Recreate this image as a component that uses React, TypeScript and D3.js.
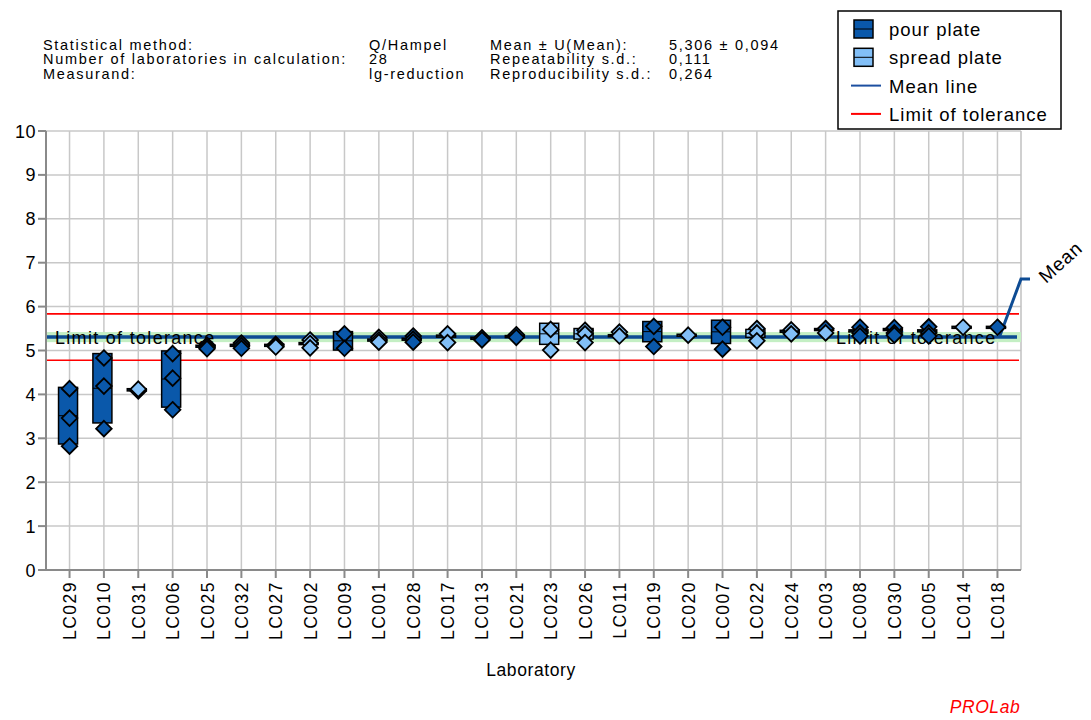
import React from 'react';
import * as d3 from 'd3';

// laboratories in chart order
const labs = [
  'LC029', 'LC010', 'LC031', 'LC006', 'LC025', 'LC032', 'LC027', 'LC002', 'LC009', 'LC001',
  'LC028', 'LC017', 'LC013', 'LC021', 'LC023', 'LC026', 'LC011', 'LC019', 'LC020', 'LC007',
  'LC022', 'LC024', 'LC003', 'LC008', 'LC030', 'LC005', 'LC014', 'LC018',
];
// method of each lab's box: p = pour plate, s = spread plate
const boxMethod = [
  'p', 'p', 'p', 'p', 'p', 'p', 'p', 'p', 'p', 'p',
  'p', 'p', 'p', 'p', 's', 's', 'p', 'p', 's', 'p',
  's', 'p', 'p', 'p', 'p', 'p', 's', 'p',
];
const boxLow = [
  2.87, 3.35, 4.08, 3.71, 5.08, 5.1, 5.1, 5.14, 5.01, 5.22,
  5.24, 5.31, 5.26, 5.3, 5.14, 5.26, 5.32, 5.2, 5.33, 5.16,
  5.3, 5.42, 5.46, 5.43, 5.46, 5.43, 5.51, 5.51,
];
const boxHigh = [
  4.16, 4.93, 4.13, 4.99, 5.12, 5.14, 5.14, 5.18, 5.43, 5.26,
  5.28, 5.35, 5.3, 5.34, 5.62, 5.5, 5.36, 5.66, 5.37, 5.69,
  5.48, 5.46, 5.5, 5.47, 5.5, 5.47, 5.55, 5.55,
];
// single results per laboratory
const results = [
  [4.13, 3.46, 2.82], [4.83, 4.19, 3.22], [4.1, 4.08, 4.12], [4.93, 4.37, 3.65],
  [5.12, 5.08, 5.04], [5.17, 5.11, 5.05], [5.14, 5.1, 5.08], [5.24, 5.16, 5.06],
  [5.38, 5.05], [5.3, 5.24, 5.19], [5.33, 5.26, 5.19], [5.38, 5.18],
  [5.29, 5.24], [5.36, 5.3], [5.48, 5.01], [5.46, 5.38, 5.18],
  [5.42, 5.33], [5.55, 5.09], [5.35], [5.53, 5.03],
  [5.5, 5.4, 5.22], [5.47, 5.38], [5.5, 5.4], [5.53, 5.4, 5.33],
  [5.52, 5.4, 5.35], [5.54, 5.4, 5.33], [5.53], [5.53],
];
const resultMethod = [
  ['p', 'p', 'p'], ['p', 'p', 'p'], ['p', 'p', 's'], ['p', 'p', 'p'],
  ['p', 'p', 'p'], ['p', 'p', 'p'], ['s', 's', 's'], ['s', 's', 's'],
  ['p', 'p'], ['s', 's', 's'], ['p', 'p', 'p'], ['s', 's'],
  ['p', 'p'], ['p', 'p'], ['s', 's'], ['s', 's', 's'],
  ['s', 's'], ['p', 'p'], ['s'], ['p', 'p'],
  ['s', 's', 's'], ['s', 's'], ['p', 's'], ['p', 'p', 'p'],
  ['p', 'p', 'p'], ['p', 'p', 'p'], ['s'], ['p'],
];

const meanValue = 5.306;
const bandLow = 5.19;
const bandHigh = 5.42;
const tolLow = 4.778;
const tolHigh = 5.834;
const meanLabelLevel = 6.63;

const headerLabels = ['Statistical method:', 'Number of laboratories in calculation:', 'Measurand:'];
const headerValues = ['Q/Hampel', '28', 'lg-reduction'];
const statLabels = ['Mean ± U(Mean):', 'Repeatability s.d.:', 'Reproducibility s.d.:'];
const statValues = ['5,306 ± 0,094', '0,111', '0,264'];
const legendItems = ['pour plate', 'spread plate', 'Mean line', 'Limit of tolerance'];

const DARK = '#0a58aa';
const LIGHT = '#82bff7';
const MEAN = '#0d4b93';
const FONT = '"Liberation Sans", Arial, sans-serif';
const fill = (m: string) => (m === 'p' ? DARK : LIGHT);

export default function App() {
  const width = 1091;
  const height = 720;
  const left = 46;
  const right = 1021;
  const top = 131;
  const bottom = 570;

  const x = d3.scalePoint<string>().domain(labs).range([left, right]).padding(0.685);
  const y = d3.scaleLinear().domain([0, 10]).range([bottom, top]);
  const yTicks = y.ticks(10);
  const lastX = x(labs[labs.length - 1]) as number;

  const connector = d3.line()([
    [lastX + 2, y(meanValue)],
    [right, y(meanLabelLevel)],
    [right + 9, y(meanLabelLevel)],
  ]);
  const diamond = d3.symbol().type(d3.symbolDiamond2).size(155)();

  const t = (size: number, ls: number) => ({ fontFamily: FONT, fontSize: size, letterSpacing: ls });
  const headerCols: [string[], number][] = [
    [headerLabels, 43],
    [headerValues, 369],
    [statLabels, 490],
    [statValues, 669],
  ];

  return (
    <svg width={width} height={height} style={{ position: 'absolute', left: 0, top: 0, background: '#fff' }}>
      {/* header */}
      {headerCols.map(([rows, hx]) =>
        rows.map((s, i) => (
          <text key={s} x={hx} y={49.5 + i * 14.6} style={t(14.5, 1.7)}>{s}</text>
        )),
      )}

      {/* grid */}
      {yTicks.map((v) => (
        <line key={'h' + v} x1={left} x2={right} y1={y(v)} y2={y(v)} stroke="#c8c8c8" strokeWidth={1.5} />
      ))}
      {labs.map((l) => (
        <line key={'v' + l} x1={x(l)} x2={x(l)} y1={top} y2={bottom} stroke="#c8c8c8" strokeWidth={1.5} />
      ))}
      <line x1={right} x2={right} y1={top} y2={bottom} stroke="#c0c0c0" strokeWidth={1.5} />

      {/* mean band, tolerance and mean line */}
      <rect x={left} width={right - left} y={y(bandHigh)} height={y(bandLow) - y(bandHigh)} fill="#c4efc4" />
      <line x1={left} x2={right - 2} y1={y(tolHigh)} y2={y(tolHigh)} stroke="#ff0000" strokeWidth={1.6} />
      <line x1={left} x2={right - 2} y1={y(tolLow)} y2={y(tolLow)} stroke="#ff0000" strokeWidth={1.6} />
      <line x1={left} x2={right - 4} y1={y(meanValue)} y2={y(meanValue)} stroke={MEAN} strokeWidth={3.5} />
      <path d={connector || ''} fill="none" stroke={MEAN} strokeWidth={3} />
      <text transform={`translate(1046,${y(meanLabelLevel) + 5}) rotate(-42)`} style={t(19, 0.8)}>Mean</text>
      <text x={55} y={y(meanValue) + 7} style={t(18, 1.3)}>Limit of tolerance</text>
      <text x={836} y={y(meanValue) + 7} style={t(18, 1.3)}>Limit of tolerance</text>

      {/* axes */}
      <line x1={left} x2={left} y1={top} y2={bottom} stroke="#8a8a8a" strokeWidth={2} />
      <line x1={left} x2={right} y1={bottom} y2={bottom} stroke="#8a8a8a" strokeWidth={2} />
      {yTicks.map((v) => (
        <g key={'yt' + v}>
          <line x1={left - 8} x2={left} y1={y(v)} y2={y(v)} stroke="#8a8a8a" strokeWidth={2} />
          <text x={36} y={y(v) + 6.5} textAnchor="end" style={t(18, 0.5)}>{v}</text>
        </g>
      ))}
      {labs.map((l) => (
        <g key={'xt' + l}>
          <line x1={x(l)} x2={x(l)} y1={bottom} y2={bottom + 8} stroke="#8a8a8a" strokeWidth={2} />
          <text
            transform={`translate(${(x(l) as number) + 6.5},${bottom + 11}) rotate(-90)`}
            textAnchor="end"
            style={t(17.5, 1.5)}
          >
            {l}
          </text>
        </g>
      ))}
      <text x={531} y={676} textAnchor="middle" style={t(17.5, 0.6)}>Laboratory</text>
      <text x={985} y={713} textAnchor="middle" fill="#ff0000" fontStyle="italic" style={t(17.5, 0.6)}>PROLab</text>

      {/* boxes and results */}
      {labs.map((l, i) => {
        const cx = x(l) as number;
        const mid = (boxLow[i] + boxHigh[i]) / 2;
        return (
          <g key={'b' + l}>
            <rect
              x={cx - 11}
              width={19}
              y={y(boxHigh[i])}
              height={Math.max(y(boxLow[i]) - y(boxHigh[i]), 2)}
              fill={fill(boxMethod[i])}
              stroke="#000"
              strokeWidth={1.5}
            />
            <line x1={cx - 11} x2={cx + 8} y1={y(mid)} y2={y(mid)} stroke="#000" strokeWidth={1} />
            {results[i].map((v, j) => (
              <path
                key={j}
                d={diamond || ''}
                transform={`translate(${cx},${y(v)})`}
                fill={fill(resultMethod[i][j])}
                stroke="#000"
                strokeWidth={1.8}
                strokeLinejoin="miter"
              />
            ))}
          </g>
        );
      })}

      {/* legend */}
      <rect x={838} y={11} width={223} height={118} fill="#fff" stroke="#000" strokeWidth={1.5} />
      {legendItems.map((s, i) => {
        const cy = 29 + i * 28.3;
        return (
          <g key={s}>
            {i < 2 ? (
              <g>
                <rect x={854} y={cy - 9} width={19} height={18} fill={i === 0 ? DARK : LIGHT} stroke="#000" strokeWidth={1.5} />
                <line x1={854} x2={873} y1={cy} y2={cy} stroke="#000" strokeWidth={1} />
              </g>
            ) : (
              <line x1={851} x2={881} y1={cy} y2={cy} stroke={i === 2 ? '#1c4fa0' : '#ff0000'} strokeWidth={2} />
            )}
            <text x={889} y={cy + 7} style={t(18.5, 1)}>{s}</text>
          </g>
        );
      })}
    </svg>
  );
}
